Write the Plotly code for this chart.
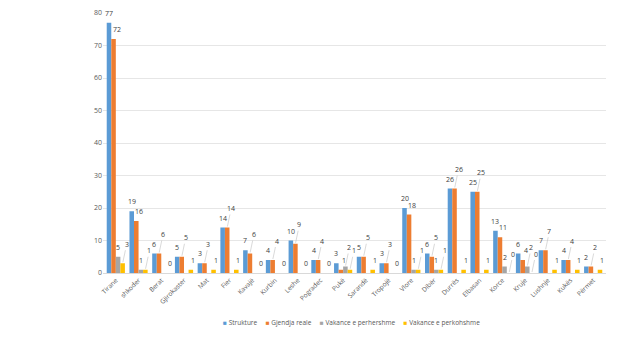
import plotly.graph_objects as go

categories = ["Tirane", "shkoder", "Berat", "Gjirokaster", "Mat", "Fier", "Kavajë", "Kurbin",
              "Leshe", "Pogradec", "Pukë", "Sarandë", "Tropojë", "Vlore", "Dibër", "Durrës",
              "Elbasan", "Korce", "Kruje", "Lushnje", "Kukës", "Përmet"]
struktura = [77, 19, 6, 5, 3, 14, 7, 4, 10, 4, 3, 5, 3, 20, 6, 26, 25, 13, 6, 7, 4, 2]
gjendja = [72, 16, 6, 5, 3, 14, 6, 4, 9, 4, 1, 5, 3, 18, 5, 26, 25, 11, 4, 7, 4, 2]
vak_perh = [5, 1, None, None, None, None, None, None, None, None, 2, None, None, 1, 1, None, None, 2, 2, None, None, None]
vak_perk = [3, 1, 0, 1, 1, 1, 0, 0, 0, 0, 1, 1, 0, 1, 1, 1, 1, 0, 0, 1, 1, 1]

series_names = ["Strukture", "Gjendja reale", "Vakance e perhershme", "Vakance e perkohshme"]
series_vals = [struktura, gjendja, vak_perh, vak_perk]
colors = ["#5B9BD5", "#ED7D31", "#A5A5A5", "#FFC000"]
offsets = [-0.3, -0.1, 0.1, 0.3]
label_xshift = [0, 3, 0, 2]

fig = go.Figure()
for name, vals, color in zip(series_names, series_vals, colors):
    fig.add_trace(go.Bar(
        name=name, x=categories, y=vals,
        marker=dict(color=color, line=dict(width=0)),
        showlegend=False,
    ))

label_font = dict(size=7, color="#404040", family="Open Sans")
annotations = []
for s, vals in enumerate(series_vals):
    for i, v in enumerate(vals):
        if v is None:
            continue
        raise_it = False
        if s == 1 and abs(struktura[i] - v) < 2:
            raise_it = True
        if s == 3 and vak_perh[i] is not None and abs(vak_perh[i] - v) < 3:
            raise_it = True
        if s == 2 and abs(gjendja[i] - v) < 3:
            raise_it = True
        if raise_it:
            annotations.append(dict(
                x=i + offsets[s], y=v, xref="x", yref="y", text=str(v),
                showarrow=True, arrowhead=0, arrowwidth=0.6, arrowcolor="#BFBFBF",
                ax=4, ay=-19, standoff=1, font=label_font,
            ))
        else:
            annotations.append(dict(
                x=i + offsets[s], y=v, xref="x", yref="y", text=str(v),
                showarrow=False, yanchor="bottom", yshift=3, xshift=label_xshift[s],
                font=label_font,
            ))

legend_text = "&nbsp;&nbsp;&nbsp;&nbsp;&nbsp;".join(
    f"<span style='color:{c}'>■</span> {n}" for n, c in zip(series_names, colors)
)
annotations.append(dict(
    x=0.495, y=-0.192, xref="paper", yref="paper", text=legend_text,
    showarrow=False, xanchor="center", yanchor="middle",
    font=dict(size=6.5, color="#595959", family="Open Sans"),
))

fig.update_layout(
    width=640, height=353,
    margin=dict(l=103, r=34, t=13, b=80),
    barmode="group", bargap=0.2, bargroupgap=0,
    plot_bgcolor="white", paper_bgcolor="white",
    font=dict(family="Open Sans", size=7, color="#595959"),
    showlegend=False,
    annotations=annotations,
)
fig.update_xaxes(tickangle=-45, tickfont=dict(size=6.5, color="#595959"), showline=True,
                 linecolor="#D9D9D9", linewidth=1, ticks="", automargin=False)
fig.update_yaxes(range=[0, 80], dtick=10, showgrid=True, gridcolor="#E6E6E6", gridwidth=1,
                 zeroline=False, tickfont=dict(size=7, color="#595959"), ticks="",
                 automargin=False)

fig.write_html("out.html")
